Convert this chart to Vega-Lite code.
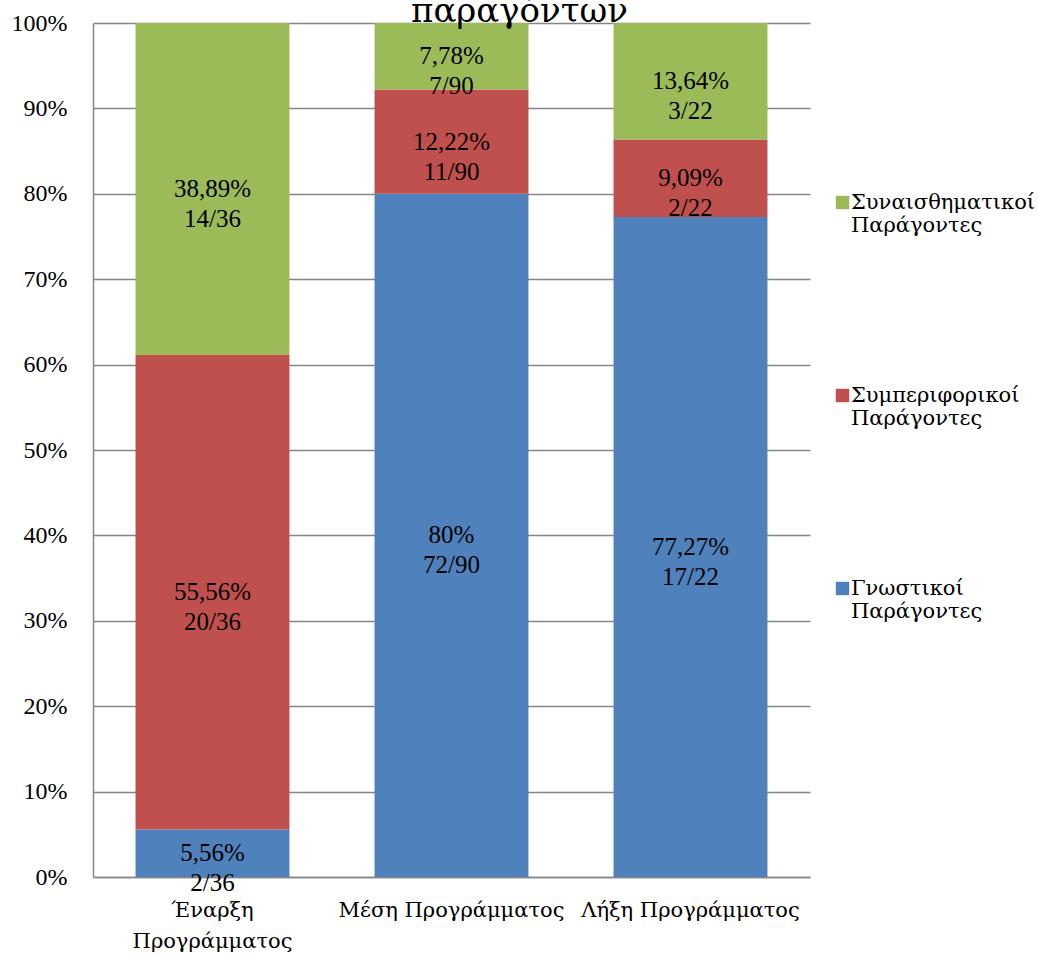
{
  "$schema": "https://vega.github.io/schema/vega-lite/v6.json",
  "width": 717,
  "height": 854,
  "autosize": {"type": "none"},
  "padding": {"left": 93, "top": 23, "right": 229, "bottom": 79},
  "background": "white",
  "config": {
    "font": "Liberation Serif",
    "view": {"stroke": null}
  },
  "title": {
    "text": "παραγόντων",
    "font": "DejaVu Serif",
    "fontSize": 34,
    "fontWeight": "normal",
    "color": "black",
    "anchor": "middle",
    "frame": "group",
    "baseline": "alphabetic",
    "offset": -45,
    "dx": 68
  },
  "data": {
    "values": [
      {"phase": "Έναρξη Προγράμματος", "factor": "Γνωστικοί Παράγοντες", "pct": 5.56, "n": 2, "total": 36},
      {"phase": "Έναρξη Προγράμματος", "factor": "Συμπεριφορικοί Παράγοντες", "pct": 55.56, "n": 20, "total": 36},
      {"phase": "Έναρξη Προγράμματος", "factor": "Συναισθηματικοί Παράγοντες", "pct": 38.89, "n": 14, "total": 36},
      {"phase": "Μέση Προγράμματος", "factor": "Γνωστικοί Παράγοντες", "pct": 80, "n": 72, "total": 90},
      {"phase": "Μέση Προγράμματος", "factor": "Συμπεριφορικοί Παράγοντες", "pct": 12.22, "n": 11, "total": 90},
      {"phase": "Μέση Προγράμματος", "factor": "Συναισθηματικοί Παράγοντες", "pct": 7.78, "n": 7, "total": 90},
      {"phase": "Λήξη Προγράμματος", "factor": "Γνωστικοί Παράγοντες", "pct": 77.27, "n": 17, "total": 22},
      {"phase": "Λήξη Προγράμματος", "factor": "Συμπεριφορικοί Παράγοντες", "pct": 9.09, "n": 2, "total": 22},
      {"phase": "Λήξη Προγράμματος", "factor": "Συναισθηματικοί Παράγοντες", "pct": 13.64, "n": 3, "total": 22}
    ]
  },
  "transform": [
    {"stack": "pct", "groupby": ["phase"], "sort": [{"field": "factor", "order": "ascending"}], "as": ["y0", "y1"]},
    {"calculate": "(datum.y0 + datum.y1) / 2", "as": "ymid"},
    {"calculate": "replace(format(datum.pct, '.2~f'), '.', ',') + '%\\n' + datum.n + '/' + datum.total", "as": "label"}
  ],
  "encoding": {
    "x": {
      "field": "phase",
      "type": "nominal",
      "sort": ["Έναρξη Προγράμματος", "Μέση Προγράμματος", "Λήξη Προγράμματος"],
      "scale": {"paddingInner": 0.356, "paddingOuter": 0.178},
      "axis": {
        "title": null,
        "labelAngle": 0,
        "ticks": false,
        "domainColor": "#868686",
        "domainWidth": 1.5,
        "labelPadding": 22,
        "labelFont": "DejaVu Serif",
        "labelFontSize": 21,
        "labelColor": "black",
        "labelLineHeight": 31,
        "labelBaseline": "top",
        "labelLimit": 400,
        "labelOverlap": false,
        "labelExpr": "datum.value == 'Έναρξη Προγράμματος' ? ['Έναρξη', 'Προγράμματος'] : datum.label"
      }
    }
  },
  "layer": [
    {
      "mark": {"type": "bar"},
      "encoding": {
        "y": {
          "field": "y0",
          "type": "quantitative",
          "scale": {"domain": [0, 100], "nice": false},
          "axis": {
            "title": null,
            "values": [0, 10, 20, 30, 40, 50, 60, 70, 80, 90, 100],
            "labelExpr": "datum.value + '%'",
            "grid": true,
            "gridColor": "#868686",
            "gridWidth": 1.5,
            "domainColor": "#868686",
            "domainWidth": 1.5,
            "ticks": false,
            "labelPadding": 26,
            "labelFont": "Liberation Serif",
            "labelFontSize": 24,
            "labelColor": "black"
          }
        },
        "y2": {"field": "y1"},
        "color": {
          "field": "factor",
          "type": "nominal",
          "scale": {
            "domain": ["Γνωστικοί Παράγοντες", "Συμπεριφορικοί Παράγοντες", "Συναισθηματικοί Παράγοντες"],
            "range": ["#4F81BD", "#C0504D", "#9BBB59"]
          },
          "legend": {
            "orient": "none",
            "legendX": 739,
            "legendY": 169,
            "padding": 0,
            "title": null,
            "values": ["Συναισθηματικοί Παράγοντες", "Συμπεριφορικοί Παράγοντες", "Γνωστικοί Παράγοντες"],
            "symbolType": "square",
            "symbolSize": 180,
            "symbolStrokeWidth": 0,
            "symbolOpacity": 1,
            "labelFont": "DejaVu Serif",
            "labelFontSize": 21,
            "labelColor": "black",
            "labelLimit": 400,
            "labelLineHeight": 31,
            "labelBaseline": "middle",
            "labelOffset": -2,
            "rowPadding": 148,
            "labelExpr": "split(datum.label, ' ')"
          }
        }
      }
    },
    {
      "mark": {"type": "text", "font": "Liberation Serif", "fontSize": 25, "lineHeight": 30, "baseline": "middle", "lineBreak": "\n", "color": "black"},
      "encoding": {
        "y": {"field": "ymid", "type": "quantitative"},
        "text": {"field": "label"}
      }
    }
  ]
}
